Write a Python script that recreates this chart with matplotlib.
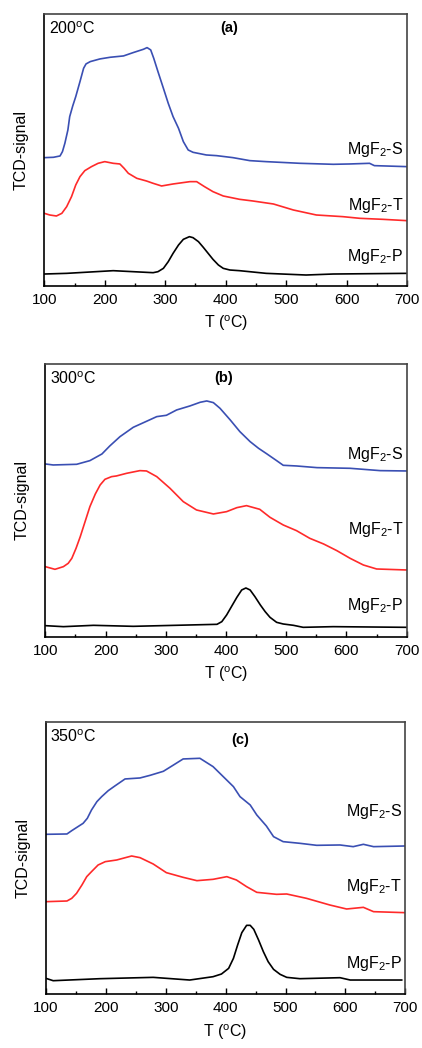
import numpy as np
import matplotlib
matplotlib.use('Agg')
import matplotlib.pyplot as plt
from matplotlib.ticker import MultipleLocator

plt.rcParams['font.family'] = ['Liberation Sans', 'DejaVu Sans']
plt.rcParams['mathtext.fontset'] = 'custom'
plt.rcParams['mathtext.rm'] = 'Liberation Sans'
plt.rcParams['mathtext.it'] = 'Liberation Sans:italic'
plt.rcParams['mathtext.bf'] = 'Liberation Sans:bold'

# ---- panel (a) 200 C ----
a_S_T = [100, 115, 126, 130, 134, 139, 142, 147, 152, 159, 165, 169, 176, 192, 209, 231, 247, 264, 270, 276, 281, 288, 297, 305, 313, 322, 330, 338, 346, 368, 385, 412, 440, 467, 523, 578, 605, 638, 646, 700]
a_S_v = [384, 385, 389, 402, 427, 467, 507, 539, 567, 612, 652, 665, 672, 680, 685, 689, 699, 709, 714, 707, 682, 642, 592, 547, 507, 472, 432, 407, 400, 392, 390, 384, 375, 372, 367, 364, 365, 367, 360, 357]
a_T_T = [100, 109, 120, 129, 137, 145, 152, 159, 167, 178, 189, 200, 214, 225, 232, 239, 253, 269, 280, 294, 313, 341, 352, 365, 379, 396, 423, 445, 479, 512, 550, 594, 622, 660, 700]
a_T_v = [217, 212, 209, 217, 237, 267, 302, 327, 345, 357, 367, 372, 367, 365, 352, 337, 322, 314, 307, 299, 305, 312, 312, 297, 282, 269, 259, 254, 245, 227, 212, 207, 202, 199, 195]
a_P_T = [100, 137, 214, 280, 288, 297, 305, 313, 322, 330, 340, 346, 355, 363, 371, 379, 388, 396, 407, 423, 467, 533, 578, 700]
a_P_v = [35, 37, 45, 39, 42, 52, 72, 97, 122, 139, 147, 144, 132, 115, 97, 79, 62, 52, 47, 45, 37, 32, 35, 37]

# ---- panel (b) 300 C ----
b_S_T = [100, 113, 152, 174, 194, 207, 224, 246, 268, 285, 301, 318, 340, 357, 368, 379, 390, 407, 423, 440, 454, 468, 484, 495, 517, 551, 606, 656, 700]
b_S_v = [518, 515, 517, 528, 548, 572, 600, 628, 646, 660, 664, 680, 692, 703, 707, 702, 685, 650, 615, 585, 565, 548, 528, 514, 512, 507, 505, 498, 497]
b_T_T = [100, 116, 130, 138, 144, 151, 158, 166, 174, 183, 191, 199, 210, 218, 235, 257, 268, 285, 307, 329, 351, 379, 401, 418, 434, 456, 473, 495, 517, 539, 562, 584, 606, 628, 650, 700]
b_T_v = [210, 202, 210, 220, 235, 265, 300, 345, 390, 428, 455, 472, 480, 482, 490, 498, 497, 480, 445, 405, 380, 368, 375, 387, 393, 382, 358, 335, 318, 295, 278, 258, 235, 215, 203, 200]
b_P_T = [100, 130, 180, 246, 385, 393, 401, 409, 418, 426, 433, 440, 448, 457, 465, 473, 484, 495, 512, 528, 578, 700]
b_P_v = [33, 30, 34, 31, 37, 45, 65, 90, 118, 140, 146, 140, 120, 95, 75, 58, 43, 38, 34, 28, 30, 28]

# ---- panel (c) 350 C ----
c_S_T = [100, 135, 143, 162, 169, 176, 185, 193, 204, 215, 232, 257, 274, 296, 313, 329, 357, 379, 396, 413, 424, 441, 452, 468, 480, 496, 524, 552, 591, 613, 630, 647, 700]
c_S_v = [479, 480, 490, 512, 527, 552, 577, 592, 610, 624, 645, 648, 656, 668, 687, 705, 707, 682, 652, 622, 592, 567, 537, 504, 472, 457, 452, 446, 447, 442, 449, 442, 444]
c_T_T = [100, 135, 143, 151, 160, 168, 176, 187, 199, 218, 243, 257, 279, 301, 329, 352, 379, 402, 418, 435, 452, 485, 502, 535, 574, 602, 630, 647, 700]
c_T_v = [277, 279, 287, 302, 327, 352, 367, 387, 397, 402, 414, 409, 390, 364, 350, 340, 344, 352, 342, 322, 305, 299, 300, 287, 267, 255, 260, 247, 244]
c_P_T = [100, 112, 190, 279, 340, 379, 393, 405, 413, 420, 427, 435, 441, 447, 455, 463, 471, 480, 491, 502, 524, 591, 608, 694]
c_P_v = [47, 40, 46, 50, 42, 52, 60, 77, 107, 147, 184, 206, 206, 194, 162, 127, 97, 74, 59, 50, 46, 49, 42, 42]

temps = ['200', '300', '350']
tags = ['(a)', '(b)', '(c)']
series = [
    [(a_S_T, a_S_v), (a_T_T, a_T_v), (a_P_T, a_P_v)],
    [(b_S_T, b_S_v), (b_T_T, b_T_v), (b_P_T, b_P_v)],
    [(c_S_T, c_S_v), (c_T_T, c_T_v), (c_P_T, c_P_v)],
]
colors = ['#3a4fb3', '#ff2a2a', '#000000']
names = ['MgF$_2$-S', 'MgF$_2$-T', 'MgF$_2$-P']

positions = [
    [0.105, 0.7274, 0.8595, 0.259],
    [0.1074, 0.3925, 0.8564, 0.2599],
    [0.109, 0.0515, 0.8514, 0.2593],
]
ylims = [814, 817, 815]
label_y = [[0.50, 0.295, 0.107], [0.667, 0.392, 0.114], [0.671, 0.395, 0.113]]
tag_pos = [(0.511, 0.951), (0.493, 0.949), (0.540, 0.935)]

fig = plt.figure(figsize=(4.22, 10.48), dpi=100)

for i in range(3):
    ax = fig.add_axes(positions[i])
    for (tt, vv), c in zip(series[i], colors):
        ax.plot(tt, vv, color=c, lw=1.2, solid_joinstyle='round')
    ax.set_xlim(100, 700)
    ax.set_ylim(0, ylims[i])
    ax.set_yticks([])
    ax.xaxis.set_major_locator(MultipleLocator(100))
    ax.xaxis.set_minor_locator(MultipleLocator(50))
    ax.tick_params(axis='x', which='major', direction='in', length=4, width=1,
                   labelsize=11, pad=5)
    ax.tick_params(axis='x', which='minor', direction='in', length=2.5, width=1)
    for side in ['left', 'bottom']:
        ax.spines[side].set_linewidth(1.2)
        ax.spines[side].set_color('black')
    for side in ['top', 'right']:
        ax.spines[side].set_linewidth(1.2)
        ax.spines[side].set_color('#444444')
    ax.set_xlabel('T ($^{\\rm o}$C)', fontsize=11.5, labelpad=5)
    ax.set_ylabel('TCD-signal', fontsize=11.5, labelpad=11)
    for n, y in zip(names, label_y[i]):
        ax.text(0.99, y, n, transform=ax.transAxes, ha='right', va='center',
                fontsize=11.5)
    ax.text(0.012, 0.948, temps[i] + '$^{\\rm o}$C', transform=ax.transAxes,
            ha='left', va='center', fontsize=11.5)
    ax.text(tag_pos[i][0], tag_pos[i][1], tags[i], transform=ax.transAxes,
            ha='center', va='center', fontsize=10.5, fontweight='bold')

fig.savefig('out.png', dpi=100)
